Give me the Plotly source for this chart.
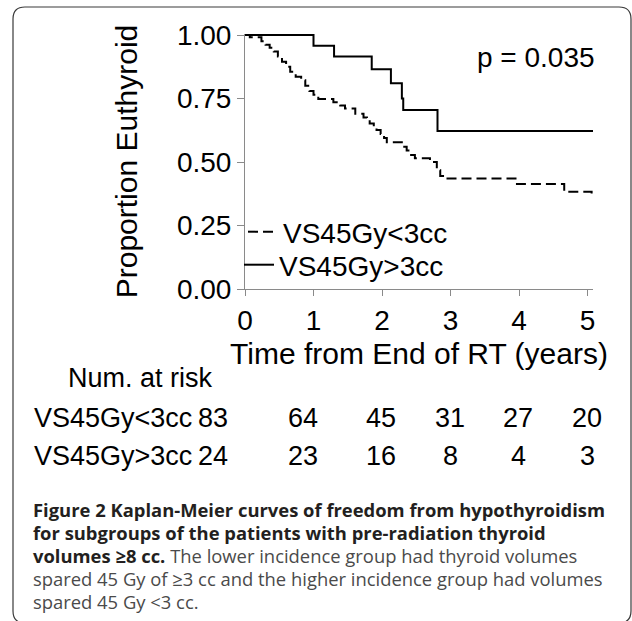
import plotly.graph_objects as go

# ---- data ----
group_lo = "VS45Gy&lt;3cc"
group_hi = "VS45Gy&gt;3cc"

t_lo = [0, 0.07, 0.24, 0.30, 0.36, 0.42, 0.48, 0.54, 0.60, 0.66, 0.74, 0.82, 0.88, 0.94,
        1.00, 1.07, 1.29, 1.39, 1.46, 1.61, 1.73, 1.78, 1.82, 1.88, 1.92, 1.98, 2.03, 2.07,
        2.31, 2.36, 2.41, 2.48, 2.70, 2.80, 2.85, 2.92, 3.97, 4.66, 5.06, 5.08]
s_lo = [1.0, 0.991, 0.975, 0.962, 0.950, 0.935, 0.915, 0.895, 0.875, 0.855, 0.836, 0.822, 0.800, 0.780,
        0.765, 0.748, 0.735, 0.722, 0.711, 0.690, 0.675, 0.665, 0.652, 0.640, 0.626, 0.610, 0.595, 0.578,
        0.560, 0.545, 0.528, 0.515, 0.500, 0.468, 0.445, 0.435, 0.413, 0.383, 0.370, 0.370]

t_hi = [0, 1.00, 1.30, 1.85, 2.13, 2.29, 2.31, 2.81, 5.08]
s_hi = [1.0, 0.958, 0.915, 0.865, 0.810, 0.750, 0.705, 0.622, 0.622]

risk_times = [0, 1, 2, 3, 4, 5]
risk_lo = [83, 64, 45, 31, 27, 20]
risk_hi = [24, 23, 16, 8, 4, 3]

x_ticks = [0, 1, 2, 3, 4, 5]
y_ticks = [0, 0.25, 0.5, 0.75, 1.0]

p_text = "p = 0.035"
x_title = "Time from End of RT (years)"
y_title = "Proportion Euthyroid"
risk_title = "Num. at risk"

GREY = "#4a4a4a"
caption_lines = [
    "<b>Figure 2 Kaplan-Meier curves of freedom from hypothyroidism</b>",
    "<b>for subgroups of the patients with pre-radiation thyroid</b>",
    f"<b>volumes ≥8 cc.</b> <span style='color:{GREY}'>The lower incidence group had thyroid volumes</span>",
    f"<span style='color:{GREY}'>spared 45 Gy of ≥3 cc and the higher incidence group had volumes</span>",
    f"<span style='color:{GREY}'>spared 45 Gy &lt;3 cc.</span>",
]

# ---- layout geometry ----
W, H = 632, 621
ML, MR, MT, MB = 245, 39, 34, 332
PW = W - ML - MR
PH = H - MT - MB


def px2x(px):
    return (px - ML) / PW


def py2y(py):
    return (H - MB - py) / PH


FONT = "Liberation Sans, Arial, Helvetica, sans-serif"
CAPFONT = "Open Sans, Noto Sans, sans-serif"

fig = go.Figure()
fig.add_trace(go.Scatter(x=t_lo, y=s_lo, mode="lines", name=group_lo, line_shape="hv",
                         legend="legend",
                         line=dict(color="black", width=2, dash="10px,5px")))
fig.add_trace(go.Scatter(x=t_hi, y=s_hi, mode="lines", name=group_hi, line_shape="hv",
                         legend="legend2",
                         line=dict(color="black", width=2)))

annotations = []
annotations.append(dict(x=px2x(536), y=py2y(57), xref="paper", yref="paper", text=p_text,
                        showarrow=False, font=dict(family=FONT, size=28, color="black"),
                        xanchor="center", yanchor="middle"))

# number at risk table
TFS = 27
annotations.append(dict(x=px2x(66), y=py2y(378), xref="paper", yref="paper", text=risk_title,
                        showarrow=False, font=dict(family=FONT, size=TFS, color="black"),
                        xanchor="left", yanchor="middle"))
col_px = [None, 303, 381, 450, 518, 587]
for row_label, vals, ypx in [(group_lo, risk_lo, 418), (group_hi, risk_hi, 456)]:
    annotations.append(dict(x=px2x(32), y=py2y(ypx), xref="paper", yref="paper", text=row_label,
                            showarrow=False, font=dict(family=FONT, size=TFS, color="black"),
                            xanchor="left", yanchor="middle"))
    for i, (cx, v) in enumerate(zip(col_px, vals)):
        if i == 0:
            annotations.append(dict(x=px2x(196), y=py2y(ypx), xref="paper", yref="paper",
                                    text=str(v), showarrow=False,
                                    font=dict(family=FONT, size=TFS, color="black"),
                                    xanchor="left", yanchor="middle"))
        else:
            annotations.append(dict(x=px2x(cx), y=py2y(ypx), xref="paper", yref="paper",
                                    text=str(v), showarrow=False,
                                    font=dict(family=FONT, size=TFS, color="black"),
                                    xanchor="center", yanchor="middle"))

cap_y = [509, 532, 555, 578, 601]
for line, ypx in zip(caption_lines, cap_y):
    annotations.append(dict(x=px2x(31), y=py2y(ypx), xref="paper", yref="paper", text=line,
                            showarrow=False, font=dict(family=CAPFONT, size=18.4, color="#231f20"),
                            xanchor="left", yanchor="middle"))

# rounded frame around figure + caption
x0, x1, y0, y1, r = 13, 631, 7, 623, 12
path = (f"M {px2x(x0)},{py2y(y1 - r)} "
        f"L {px2x(x0)},{py2y(y0 + r)} Q {px2x(x0)},{py2y(y0)} {px2x(x0 + r)},{py2y(y0)} "
        f"L {px2x(x1 - r)},{py2y(y0)} Q {px2x(x1)},{py2y(y0)} {px2x(x1)},{py2y(y0 + r)} "
        f"L {px2x(x1)},{py2y(y1 - r)} Q {px2x(x1)},{py2y(y1)} {px2x(x1 - r)},{py2y(y1)} "
        f"L {px2x(x0 + r)},{py2y(y1)} Q {px2x(x0)},{py2y(y1)} {px2x(x0)},{py2y(y1 - r)} Z")

legend_common = dict(xanchor="left", yanchor="top", bgcolor="rgba(0,0,0,0)", borderwidth=0,
                     itemwidth=30, font=dict(family=FONT, size=28, color="black"))

fig.update_layout(
    width=W, height=H,
    margin=dict(l=ML, r=MR, t=MT, b=MB, autoexpand=False),
    paper_bgcolor="white", plot_bgcolor="white",
    font=dict(family=FONT, size=28, color="black"),
    showlegend=True,
    legend=dict(x=px2x(243), y=py2y(207), **legend_common),
    legend2=dict(x=px2x(239), y=py2y(240), **legend_common),
    annotations=annotations,
    shapes=[dict(type="path", path=path, xref="paper", yref="paper",
                 line=dict(color="#3a3a3a", width=1.2), fillcolor="rgba(0,0,0,0)", layer="below")],
    xaxis=dict(range=[0, 5.08], tickvals=x_ticks, ticktext=[str(v) for v in x_ticks],
               showline=True, linecolor="#8a8a8a", linewidth=1, ticks="outside", ticklen=6,
               tickcolor="#8a8a8a", showgrid=False, zeroline=False,
               tickfont=dict(family=FONT, size=28, color="black"),
               title=dict(text=x_title, font=dict(family=FONT, size=30, color="black"), standoff=8)),
    yaxis=dict(range=[0, 1.004], tickvals=y_ticks, tickformat=".2f",
               showline=True, linecolor="#8a8a8a", linewidth=1, ticks="outside", ticklen=7,
               tickcolor="#8a8a8a", showgrid=False, zeroline=False,
               tickfont=dict(family=FONT, size=28, color="black"),
               title=dict(text=y_title, font=dict(family=FONT, size=30, color="black"), standoff=30)),
)

fig.write_html("out.html", config={"displayModeBar": False},
               post_script="document.body.style.margin='0';document.body.style.overflow='hidden';")
